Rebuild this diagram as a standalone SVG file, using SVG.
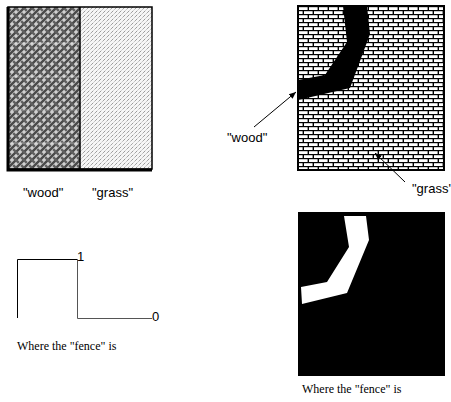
<svg xmlns="http://www.w3.org/2000/svg" width="451" height="402" viewBox="0 0 451 402">
  <style>
    .sans { font-family: "Liberation Sans", Arial, sans-serif; font-size: 13px; fill: #000; }
    .serif { font-family: "Liberation Serif", "Times New Roman", serif; font-size: 12px; fill: #000; }
    .conn { stroke: #000; stroke-width: 1; fill: none; }
  </style>
  <defs>
    <!-- woven texture for the "wood" region -->
    <pattern id="weave" width="8" height="8" patternUnits="userSpaceOnUse">
      <rect width="8" height="8" fill="#d0d0d0"/>
      <path d="M-1,1 L1,-1 M0,8 L8,0 M7,9 L9,7" stroke="#4a4a4a" stroke-width="2.4"/>
      <path d="M-1,7 L1,9 M0,0 L2.8,2.8 M5.2,5.2 L8,8 M7,-1 L9,1" stroke="#606060" stroke-width="2.4"/>
    </pattern>
    <!-- fine diagonal hatching for the "grass" region -->
    <pattern id="hatch" width="4" height="4" patternUnits="userSpaceOnUse">
      <rect width="4" height="4" fill="#f6f6f6"/>
      <path d="M0,4 L4,0" stroke="#9a9a9a" stroke-width="1" stroke-dasharray="2,1.5"/>
    </pattern>
    <!-- brick texture -->
    <pattern id="brick" x="298" y="6" width="10" height="8" patternUnits="userSpaceOnUse">
      <rect width="10" height="8" fill="#000"/>
      <rect x="1" y="1.2" width="8.6" height="2.8" fill="#fff"/>
      <rect x="-4" y="5.2" width="8.6" height="2.8" fill="#fff"/>
      <rect x="6" y="5.2" width="8.6" height="2.8" fill="#fff"/>
    </pattern>
    <marker id="arrow" markerWidth="8" markerHeight="8" refX="7" refY="4" orient="auto" markerUnits="userSpaceOnUse">
      <path d="M0,1 L7,4 L0,7 Z" fill="#000"/>
    </marker>
  </defs>

  <!-- two textures side by side -->
  <g id="textures">
    <rect x="8" y="7" width="72" height="162" fill="url(#weave)"/>
    <rect x="80" y="7" width="72" height="162" fill="url(#hatch)"/>
    <path d="M8,43 H152 M8,77 H152 M8,110 H152 M8,143 H152" stroke="#fff" stroke-width="1" opacity="0.45"/>
    <rect x="8" y="7" width="144" height="162" fill="none" stroke="#000" stroke-width="1.5"/>
    <path d="M8,7 V170 H152" fill="none" stroke="#000" stroke-width="3"/>
    <line x1="80" y1="7" x2="80" y2="169" stroke="#000" stroke-width="1.5"/>
  </g>
  <g id="label-wood-left"><text class="sans" x="23" y="197">"wood"</text></g>
  <g id="label-grass-left"><text class="sans" x="92" y="197">"grass"</text></g>

  <!-- brick field with the fence band -->
  <g id="brick-field">
    <rect x="298" y="6" width="146" height="164" fill="url(#brick)"/>
    <polygon points="343,6 367,6 370,34 350,88 298,100 298,80 325,75 347,42" fill="#000"/>
    <rect x="298" y="6" width="146" height="164" fill="none" stroke="#000" stroke-width="2"/>
  </g>
  <g id="label-wood-right"><text class="sans" x="227" y="142">"wood"</text></g>
  <g id="label-grass-right"><text class="sans" x="412" y="193">"grass'</text></g>

  <g id="connectors">
    <line class="conn" x1="254" y1="127" x2="296" y2="92" marker-end="url(#arrow)"/>
    <line class="conn" x1="405" y1="182" x2="375" y2="153" marker-end="url(#arrow)"/>
  </g>

  <!-- step profile -->
  <g id="step">
    <path d="M17.5,318 V259.5 H77.5" fill="none" stroke="#000" stroke-width="1"/>
    <path d="M77.5,259.5 V318.5 H152" fill="none" stroke="#555" stroke-width="1"/>
    <text class="sans" x="77" y="261">1</text>
    <text class="sans" x="152" y="321">0</text>
  </g>
  <g id="caption-left"><text class="serif" x="17" y="350">Where the "fence" is</text></g>

  <!-- fence mask -->
  <g id="fence-mask">
    <rect x="298" y="212" width="147" height="164" fill="#000"/>
    <polygon points="344,216 366,216 369,240 347,293 302,304 301,287 327,282 349,247" fill="#fff"/>
  </g>
  <g id="caption-right"><text class="serif" x="302" y="393">Where the "fence" is</text></g>
</svg>
